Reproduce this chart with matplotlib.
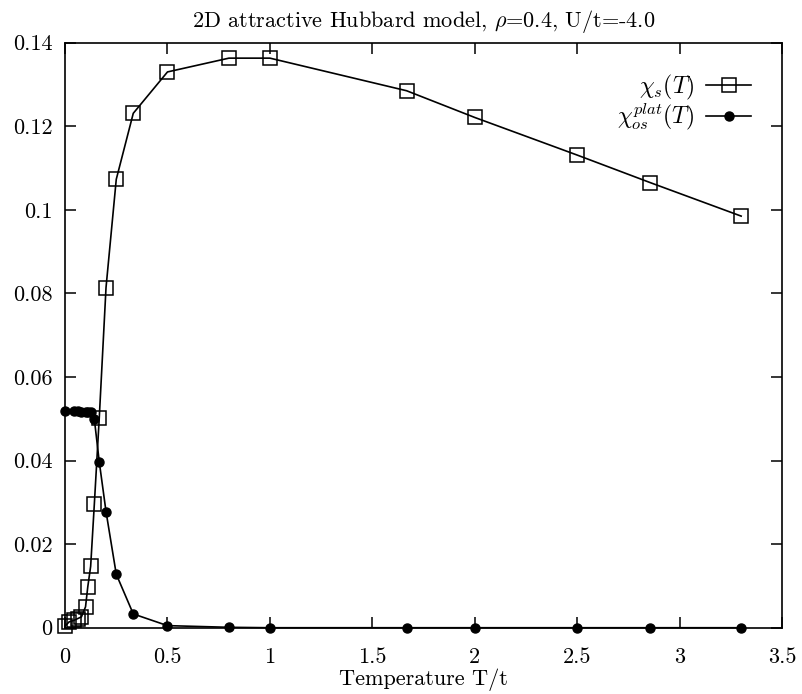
import matplotlib
matplotlib.use('Agg')
from matplotlib import pyplot as plt
from matplotlib.ticker import MultipleLocator, FuncFormatter

plt.rcParams['font.family'] = ['cmr10', 'DejaVu Serif']
plt.rcParams['mathtext.fontset'] = 'cm'
plt.rcParams['axes.unicode_minus'] = False
plt.rcParams['axes.formatter.use_mathtext'] = True

# spin susceptibility chi_s(T)
temp_s = [0.0, 0.02, 0.045, 0.0625, 0.08, 0.1, 0.111, 0.125, 0.143, 0.167,
          0.2, 0.25, 0.333, 0.5, 0.8, 1.0, 1.667, 2.0, 2.5, 2.857, 3.3]
chi_s = [0.0004, 0.0014, 0.0018, 0.0022, 0.0026, 0.005, 0.0098, 0.0147,
         0.0296, 0.0502, 0.0814, 0.1073, 0.1231, 0.1330, 0.1363, 0.1363,
         0.1285, 0.1221, 0.1131, 0.1065, 0.0985]

# on-site pair plateau chi_os^plat(T)
temp_os = [0.0, 0.045, 0.0625, 0.08, 0.1, 0.111, 0.125, 0.143, 0.167, 0.2,
           0.25, 0.333, 0.5, 0.8, 1.0, 1.667, 2.0, 2.5, 2.857, 3.3]
chi_os = [0.0519, 0.0518, 0.0518, 0.0517, 0.0517, 0.0516, 0.0516, 0.0499,
          0.0397, 0.0278, 0.0128, 0.0033, 0.0005, 0.0001, 0.0, 0.0, 0.0,
          0.0, 0.0, 0.0]

fig = plt.figure(figsize=(8.03, 6.94), dpi=100)
ax = fig.add_axes([0.081, 0.0955, 0.893, 0.843])

ax.plot(temp_s, chi_s, color='black', lw=1.2, marker='s', ms=9.5,
        mfc='none', mec='black', mew=1.1, clip_on=False,
        label=r'$\chi_s(T)$')
ax.plot(temp_os, chi_os, color='black', lw=1.2, marker='o', ms=6.5,
        mfc='black', mec='black', clip_on=False,
        label=r'$\chi_{os}^{plat}(T)$')

ax.set_xlim(0, 3.5)
ax.set_ylim(0, 0.14)
ax.xaxis.set_major_locator(MultipleLocator(0.5))
ax.yaxis.set_major_locator(MultipleLocator(0.02))
fmt = FuncFormatter(lambda v, p: '%g' % round(v, 4))
ax.xaxis.set_major_formatter(fmt)
ax.yaxis.set_major_formatter(fmt)
ax.tick_params(direction='in', top=True, right=True, length=8, width=1.1,
               labelsize=16, pad=9)
ax.tick_params(axis='x', pad=14)
for s in ax.spines.values():
    s.set_linewidth(1.2)

ax.set_title(r'2D attractive Hubbard model, $\rho$=0.4, U/t=-4.0',
             fontsize=16, pad=11)
ax.set_xlabel('Temperature T/t', fontsize=16, labelpad=1)

ax.legend(loc='upper right', bbox_to_anchor=(0.97, 0.965), frameon=False,
          markerfirst=False, fontsize=17, handlelength=1.9,
          labelspacing=0.0, borderaxespad=0.0, handletextpad=0.5)

fig.savefig('out.png', dpi=100)
